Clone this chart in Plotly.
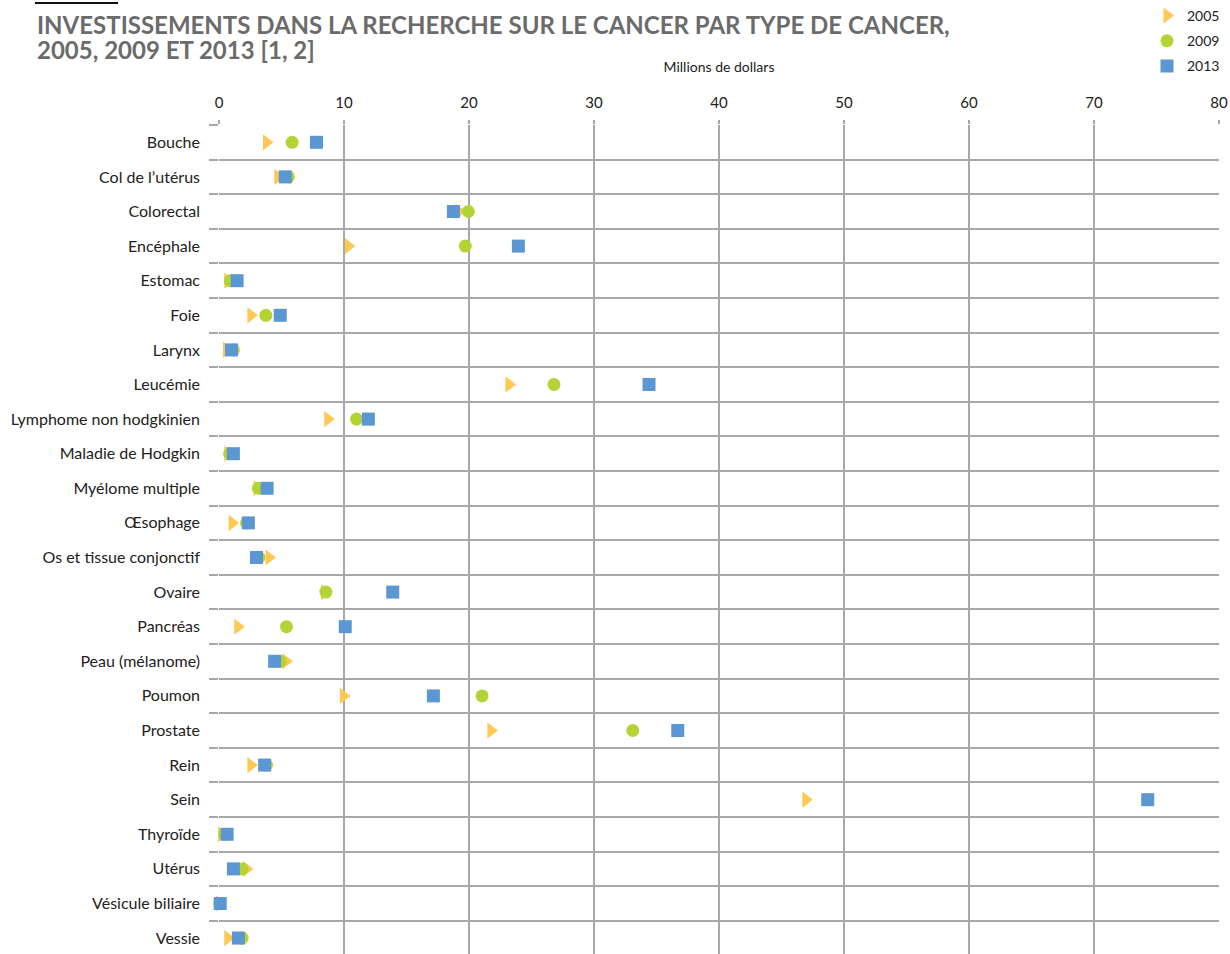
import plotly.graph_objects as go

categories = ["Bouche", "Col de l\u2019ut\u00e9rus", "Colorectal", "Enc\u00e9phale", "Estomac", "Foie",
              "Larynx", "Leuc\u00e9mie", "Lymphome non hodgkinien", "Maladie de Hodgkin",
              "My\u00e9lome multiple", "\u0152sophage", "Os et tissue conjonctif", "Ovaire",
              "Pancr\u00e9as", "Peau (m\u00e9lanome)", "Poumon", "Prostate", "Rein", "Sein",
              "Thyro\u00efde", "Ut\u00e9rus", "V\u00e9sicule biliaire", "Vessie"]

v2005 = [3.8, 4.7, 19.2, 10.35, 0.7, 2.55, 0.6, 23.2, 8.7, 0.7, 3.05, 1.05, 4.0, 8.45,
         1.5, 5.35, 9.95, 21.75, 2.55, 46.95, 0.2, 2.2, 0.05, 0.7]
v2009 = [5.85, 5.55, 19.95, 19.7, 0.9, 3.75, 1.15, 26.8, 11.0, 0.85, 3.15, 2.2, 3.2, 8.55,
         5.4, 4.9, 21.05, 33.1, 3.8, 74.3, 0.45, 1.85, 0.05, 1.85]
v2013 = [7.8, 5.3, 18.75, 23.95, 1.45, 4.9, 1.0, 34.4, 11.95, 1.15, 3.85, 2.35, 3.0, 13.9,
         10.1, 4.45, 17.15, 36.7, 3.65, 74.3, 0.65, 1.15, 0.1, 1.55]

x_ticks = [0, 10, 20, 30, 40, 50, 60, 70, 80]

title_lines = ["INVESTISSEMENTS DANS LA RECHERCHE SUR LE CANCER PAR TYPE DE CANCER,",
               "2005, 2009 ET 2013 [1, 2]"]

series = [("2005", v2005, "triangle-right", "#FDC854", 14),
          ("2009", v2009, "circle", "#B4D334", 13),
          ("2013", v2013, "square", "#5B97D2", 13)]

ypos = list(range(len(categories)))
GRID = "#A8A8A8"
FONT = "Lato"

fig = go.Figure()
for name, vals, sym, col, sz in series:
    fig.add_trace(go.Scatter(
        x=vals, y=ypos, mode="markers", name=name, legendgroup=name, cliponaxis=False,
        marker=dict(symbol=sym, size=sz, color=col, line=dict(width=0)),
        hovertemplate="%{text}: %{x}<extra>" + name + "</extra>", text=categories))

fig.update_layout(
    width=1230, height=954,
    margin=dict(l=219, r=11, t=125, b=0, autoexpand=False),
    paper_bgcolor="white", plot_bgcolor="white",
    font=dict(family=FONT, size=14, color="#222222"),
    legend=dict(x=0.928, xanchor="left", y=1.1508, yanchor="top",
                font=dict(size=14, color="#222222"), traceorder="grouped",
                tracegroupgap=4, bgcolor="rgba(0,0,0,0)", itemwidth=30),
    showlegend=True,
)

for txt, py in zip(title_lines, [25, 50]):
    fig.add_annotation(text=txt, xref="paper", yref="paper", x=(35 - 219) / 1000,
                       y=(954 - py) / 829, xanchor="left", yanchor="middle", showarrow=False,
                       font=dict(family=FONT, size=24, color="#6B6B6B", weight="bold"))

fig.update_xaxes(side="top", range=[0, 80], tickvals=x_ticks, showgrid=True, gridcolor=GRID,
                 gridwidth=1.5, zeroline=False, ticks="outside", ticklen=4, tickcolor=GRID,
                 tickwidth=1.5, showline=False, fixedrange=True, ticklabelstandoff=6,
                 title=dict(text="Millions de dollars", font=dict(size=14, color="#222222"), standoff=17),
                 tickfont=dict(size=15, color="#222222"))

fig.update_yaxes(range=[23.46, -0.5], tickvals=ypos, ticktext=categories, showgrid=False,
                 zeroline=False, ticks="", showline=False, ticklabelstandoff=18,
                 tickfont=dict(size=16, color="#222222"),
                 minor=dict(tickvals=[i - 0.5 for i in range(len(categories) + 1)], showgrid=True,
                            gridcolor=GRID, gridwidth=1.5, ticks="outside", ticklen=9,
                            tickcolor=GRID, tickwidth=1.5))

fig.add_shape(type="line", xref="paper", yref="paper",
              x0=(35 - 219) / 1000, x1=(118 - 219) / 1000,
              y0=(954 - 3) / 829, y1=(954 - 3) / 829,
              line=dict(color="#111111", width=2))

# remove the default 8px page margin so the figure sits at the window's top-left corner
fig.write_html("out.html", config={"displayModeBar": False},
               post_script="document.body.style.margin='0px';")
